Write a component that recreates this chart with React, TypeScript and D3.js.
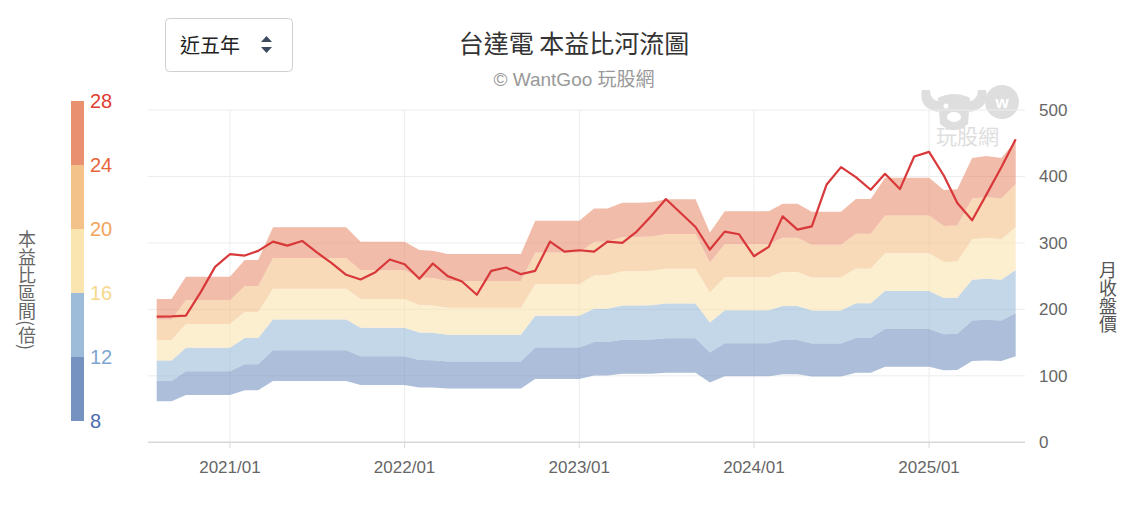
import { useMemo } from "react";
import * as d3 from "d3";

// monthly close price (月收盤價), 2020/08 .. 2025/07
const price = [
  189, 189.5, 190.5, 226, 264, 283, 281, 288, 302, 296, 303, 286,
  270, 252, 245, 256, 275, 268, 246, 269, 250, 242, 222, 258,
  263, 253, 258, 302, 287, 289, 287, 302, 300, 317, 341, 366,
  345, 324, 290, 317, 313, 280, 294, 340, 320, 325, 388, 414,
  399, 380, 404, 381, 430, 437, 401, 360, 334, 373, 414, 456,
];

// trailing EPS used for the river bands, same months
const eps = [
  7.7, 7.7, 8.9, 8.9, 8.9, 8.9, 9.8, 9.8, 11.55, 11.55, 11.55, 11.55,
  11.55, 11.55, 10.78, 10.78, 10.78, 10.78, 10.33, 10.3, 10.12, 10.12, 10.12, 10.12,
  10.12, 10.12, 11.9, 11.9, 11.9, 11.9, 12.57, 12.57, 12.87, 12.87, 12.9, 13.06,
  13.06, 13.06, 11.27, 12.42, 12.42, 12.42, 12.42, 12.82, 12.82, 12.39, 12.39, 12.39,
  13.07, 13.07, 14.22, 14.22, 14.22, 14.22, 13.56, 13.6, 15.28, 15.38, 15.28, 16.2,
];

const peLevels = [8, 12, 16, 20, 24, 28];
const bandColors = ["#7592c0", "#9dbcd9", "#fae5b1", "#f3c18a", "#e8906f"];
const levelLabelColors = ["#4a6cae", "#7ea7d0", "#f6d88c", "#f2a45a", "#e8653a", "#e03c31"];
const priceTicks = [0, 100, 200, 300, 400, 500];
const yearTicks = ["2021/01", "2022/01", "2023/01", "2024/01", "2025/01"];

const months = d3.timeMonth.range(new Date(2020, 7, 1), new Date(2025, 7, 1));
const parseMonth = d3.timeParse("%Y/%m");

const FONT = "'Helvetica Neue', 'Liberation Sans', Arial, 'Noto Sans CJK TC', sans-serif";
const CJK = "'Noto Sans CJK TC', 'Noto Sans', sans-serif";

export default function App() {
  const width = 1138;
  const height = 510;
  const plotLeft = 148;
  const plotRight = 1025;

  const x = d3
    .scaleTime()
    .domain([months[0], months[months.length - 1]])
    .range([156.7, 1015.7]);
  const y = d3.scaleLinear().domain([0, 500]).range([442.3, 110]);

  const rows = useMemo(
    () => months.map((m, i) => ({ date: m, eps: eps[i], price: price[i] })),
    []
  );

  const bands = peLevels.slice(0, -1).map((lo, k) => {
    const hi = peLevels[k + 1];
    const area = d3
      .area<any>()
      .x((d) => x(d.date))
      .y0((d) => y(d.eps * lo))
      .y1((d) => y(d.eps * hi));
    return { d: area(rows), color: bandColors[k] };
  });

  const line = d3
    .line<any>()
    .x((d) => x(d.date))
    .y((d) => y(d.price));

  // colour legend scale (left)
  const legendY = d3.scaleLinear().domain([8, 28]).range([421, 101]);

  return (
    <svg
      width={width}
      height={height}
      style={{ position: "absolute", left: 0, top: 0, background: "#fff" }}
    >
      {/* select box */}
      <rect x={165.5} y={18.5} width={127} height={53} rx={4} fill="#fff" stroke="#d0d0d0" />
      <text x={180} y={53} fontFamily={CJK} fontSize={20} fill="#222">
        近五年
      </text>
      <path d="M261,42 L266.5,36 L272,42 Z" fill="#3b4a5e" />
      <path d="M261,47 L266.5,53 L272,47 Z" fill="#3b4a5e" />

      {/* title */}
      <text x={574} y={53} textAnchor="middle" fontFamily={CJK} fontSize={25} fill="#333">
        台達電 本益比河流圖
      </text>
      <text x={574} y={86} textAnchor="middle" fontFamily={FONT} fontSize={19} fill="#999">
        © WantGoo 玩股網
      </text>

      {/* watermark */}
      <g fill="#dedede">
        <path d="M922,90 Q918,108 938,112 L944,102 Q930,102 930,90 Z" />
        <path d="M986,90 Q990,108 970,112 L964,102 Q978,102 978,90 Z" />
        <path d="M938,98 Q954,90 970,98 L968,124 Q954,136 940,124 Z" />
        <circle cx={1002} cy={102} r={17} />
        <text x={936} y={144} fontFamily={CJK} fontSize={21}>
          玩股網
        </text>
      </g>
      <ellipse cx={954} cy={117} rx={7} ry={5} fill="#fff" />
      <circle cx={946} cy={106} r={2.5} fill="#fff" />
      <text x={1002} y={108} textAnchor="middle" fontFamily={FONT} fontSize={17} fontWeight="bold" fill="#fff">
        w
      </text>

      {/* grid */}
      {priceTicks.slice(1).map((t) => (
        <line key={t} x1={plotLeft} x2={plotRight} y1={y(t)} y2={y(t)} stroke="#ececec" strokeWidth={1} />
      ))}
      {yearTicks.map((t) => (
        <line
          key={t}
          x1={x(parseMonth(t)!)}
          x2={x(parseMonth(t)!)}
          y1={y(500)}
          y2={y(0)}
          stroke="#ececec"
          strokeWidth={1}
        />
      ))}

      {/* river bands */}
      {bands.map((b, i) => (
        <path key={i} d={b.d || ""} fill={b.color} fillOpacity={0.6} stroke="none" />
      ))}

      {/* price line */}
      <path d={line(rows) || ""} fill="none" stroke="#d9383a" strokeWidth={2.2} strokeLinejoin="round" />

      {/* x axis */}
      <line x1={plotLeft} x2={plotRight} y1={y(0)} y2={y(0)} stroke="#d8d8d8" strokeWidth={1.5} />
      {yearTicks.map((t) => (
        <g key={t} transform={`translate(${x(parseMonth(t)!)},0)`}>
          <line y1={y(0)} y2={y(0) + 6} stroke="#d8d8d8" />
          <text y={473} textAnchor="middle" fontFamily={FONT} fontSize={17} fill="#666">
            {t}
          </text>
        </g>
      ))}

      {/* right axis */}
      {priceTicks.map((t) => (
        <text key={t} x={1039} y={y(t) + 6} fontFamily={FONT} fontSize={17} fill="#666">
          {t}
        </text>
      ))}
      <text
        x={1108}
        y={297}
        textAnchor="middle"
        fontFamily={CJK}
        fontSize={18}
        fill="#555"
        style={{ writingMode: "vertical-rl" }}
      >
        月收盤價
      </text>

      {/* PE legend */}
      {bandColors.map((c, k) => (
        <rect
          key={k}
          x={71}
          width={13}
          y={legendY(peLevels[k + 1])}
          height={legendY(peLevels[k]) - legendY(peLevels[k + 1])}
          fill={c}
        />
      ))}
      {peLevels.map((p, k) => (
        <text key={p} x={90} y={legendY(p) + 7} fontFamily={FONT} fontSize={20} fill={levelLabelColors[k]}>
          {p}
        </text>
      ))}
      <text
        x={27}
        y={290}
        textAnchor="middle"
        fontFamily={CJK}
        fontSize={18}
        fill="#666"
        style={{ writingMode: "vertical-rl" }}
      >
        本益比區間(倍)
      </text>
    </svg>
  );
}
